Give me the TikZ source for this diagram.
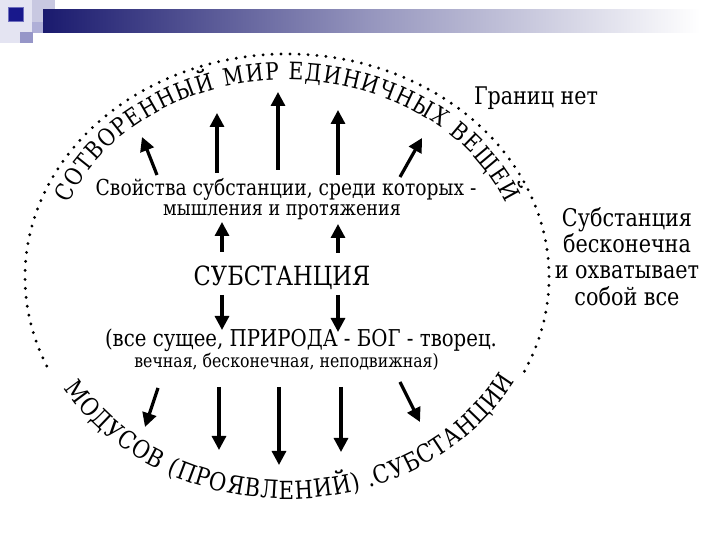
\documentclass[tikz,border=0pt]{standalone}
\usepackage{fontspec}
\setmainfont{DejaVu Serif}[FakeStretch=0.85]
\usetikzlibrary{arrows.meta,decorations.text}
\definecolor{hdrpale}{RGB}{228,228,242}
\definecolor{hdrlight}{RGB}{200,200,225}
\definecolor{hdrmid}{RGB}{150,150,200}
\definecolor{hdrmid2}{RGB}{175,175,215}
\definecolor{hdrnavy}{RGB}{24,24,140}
\definecolor{barleft}{RGB}{26,26,110}
\definecolor{barmid}{RGB}{150,150,190}
\begin{document}
\begin{tikzpicture}[x=1pt,y=1pt,
  arr/.style={line width=3.2pt,-{Triangle[length=14pt,width=14pt]}},
  dotline/.style={line width=3.2pt,line cap=round,dash pattern=on 0pt off 9pt},
  txt/.style={inner sep=0pt,font=\fontsize{22}{26}\selectfont},
]
\useasboundingbox (0,0) rectangle (720,540);
\fill[white] (0,0) rectangle (720,540);
% header decoration
\fill[hdrpale] (0,497) rectangle (33,540);
\fill[hdrlight] (32,518) rectangle (55,540);
\fill[hdrmid2] (32,507) rectangle (43,518);
\fill[hdrmid] (20,497) rectangle (33,508);
\shade[left color=barleft,right color=white,middle color=barmid] (43,507) rectangle (700,530);
\fill[hdrnavy,draw={rgb,255:red,110;green,110;blue,190},line width=1pt] (8,518) rectangle (23,532);

% dotted boundary of the world
\draw[dotline,shift={(287,263)}] (-25:262 and 223) arc[start angle=-25,end angle=205,x radius=262,y radius=223];

% text along the boundary
\path[shift={(287,263)},decorate,decoration={text along path,text align={fit to path},
  text={|\fontsize{24}{24}\selectfont|СОТВОРЕННЫЙ МИР ЕДИНИЧНЫХ ВЕЩЕЙ}}]
  (158:236 and 197) arc[start angle=158,end angle=22,x radius=236,y radius=197];
\path[shift={(287,263)},decorate,decoration={text along path,text align={fit to path},
  text={|\fontsize{25}{25}\selectfont|МОДУСОВ (ПРОЯВЛЕНИЙ) .СУБСТАНЦИИ}}]
  (210:258 and 222) arc[start angle=210,end angle=332,x radius=258,y radius=222];

% inner texts
\node[txt] (props1) at (286,351) {Свойства субстанции, среди которых -};
\node[txt,font=\fontsize{20.6}{24}\selectfont] (props2) at (282,328) {мышления и протяжения};
\node[txt,font=\fontsize{26.5}{30}\selectfont] (subst) at (282,262) {СУБСТАНЦИЯ};
\node[txt,font=\fontsize{23.2}{26}\selectfont] (nat1) at (301,200) {(все сущее, ПРИРОДА - БОГ - творец.};
\node[txt,font=\fontsize{18.5}{22}\selectfont] (nat2) at (286.5,178) {вечная, бесконечная, неподвижная)};
\node[txt,font=\fontsize{24.3}{28}\selectfont] (limit) at (536,442) {Границ нет};
\node[txt,font=\fontsize{24.4}{26.3}\selectfont,align=center] (infin) at (627,283.5)
  {Субстанция\\бесконечна\\и охватывает\\собой все};

% arrow end points
\coordinate (a1s) at (157,365); \coordinate (a1e) at (142,403);
\coordinate (a2s) at (217,367); \coordinate (a2e) at (217,427);
\coordinate (a3s) at (278,370); \coordinate (a3e) at (278,448);
\coordinate (a4s) at (338,365); \coordinate (a4e) at (338,430);
\coordinate (a5s) at (400,363); \coordinate (a5e) at (422,402);
\coordinate (a6s) at (222,288); \coordinate (a6e) at (222,318);
\coordinate (a7s) at (338,287); \coordinate (a7e) at (338,316);
\coordinate (d1s) at (222,245); \coordinate (d1e) at (222,210);
\coordinate (d2s) at (338,245); \coordinate (d2e) at (338,208);
\coordinate (b1s) at (158,152); \coordinate (b1e) at (145,113);
\coordinate (b2s) at (219,153); \coordinate (b2e) at (219,90);
\coordinate (b3s) at (279,153); \coordinate (b3e) at (279,75);
\coordinate (b4s) at (341,153); \coordinate (b4e) at (341,88);
\coordinate (b5s) at (400,158); \coordinate (b5e) at (420,118);

\foreach \a in {a1,a2,a3,a4,a5,a6,a7,d1,d2,b1,b2,b3,b4,b5}
  \draw[arr] (\a s) -- (\a e);
\end{tikzpicture}
\end{document}
